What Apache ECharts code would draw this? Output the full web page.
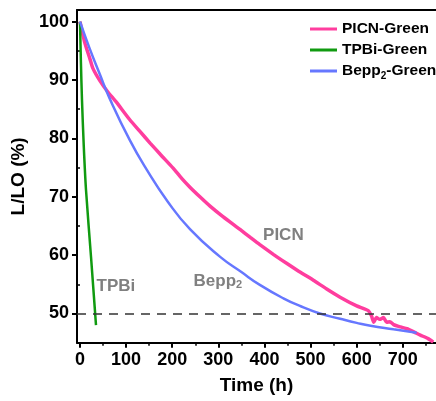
<!DOCTYPE html>
<html>
<head>
<meta charset="utf-8">
<script src="https://cdn.jsdelivr.net/npm/echarts@6/dist/echarts.min.js"></script>
<style>html,body{margin:0;padding:0;background:#fff}#c{width:436px;height:401px}</style>
</head>
<body>
<div id="c"></div>
<script>
// ---- data ----
const seriesNames = ['PICN-Green', 'TPBi-Green', 'Bepp2-Green'];
const picnHours = [0, 10, 22, 28, 43, 60, 78, 108, 130, 152, 175, 202, 220, 239, 260, 282, 310, 347, 370, 390, 420, 448, 475, 506, 535, 564, 600, 625, 632, 637, 643, 650, 658, 665, 672, 680, 695, 709, 725, 738, 755, 766];
const picnValues = [100, 96.5, 93.5, 92.0, 89.9, 88.0, 86.3, 83.2, 81.2, 79.2, 77.2, 74.9, 73.2, 71.6, 70.0, 68.4, 66.6, 64.4, 63.0, 61.8, 60.1, 58.6, 57.2, 55.7, 54.2, 52.8, 51.3, 50.5, 49.6, 48.5, 49.3, 49.0, 49.3, 48.5, 48.6, 48.1, 47.7, 47.4, 46.8, 46.3, 45.7, 45.1];
const tpbiHours = [0, 2, 4.3, 8, 13, 24, 34.7];
const tpbiValues = [100, 93, 86.6, 79, 71.2, 59.6, 48.0];
const beppHours = [0, 20, 43, 64, 108, 145, 190, 239, 304, 350, 390, 441, 480, 520, 564, 600, 630, 680, 723, 730];
const beppValues = [100, 95.6, 91, 86.9, 79.7, 74.6, 69.2, 64.4, 59.7, 57.1, 54.9, 52.6, 51.2, 50.0, 49.1, 48.4, 47.9, 47.3, 46.8, 46.7];
const xMajorTicks = [0, 100, 200, 300, 400, 500, 600, 700];
const xMinorTicks = [50, 150, 250, 350, 450, 550, 650, 750];
const yMajorTicks = [50, 60, 70, 80, 90, 100];
const yMinorTicks = [55, 65, 75, 85, 95];
const halfLifeLevel = 50;
const annPICN = [441, 63.4];
const annBepp = [299, 55.6];
const annTPBi = [78, 54.7];

const pairs = (xs, ys) => xs.map((x, i) => [x, ys[i]]);
const FONT = 'Liberation Sans, Arial, sans-serif';
const X_MIN = -6.5, X_MAX = 772, Y_MIN = 45, Y_MAX = 102;
const gray = '#808080';

const annLabel = (text) => ({
  show: true, position: 'inside', formatter: text,
  color: gray, fontSize: 17, fontWeight: 'bold', fontFamily: FONT,
  rich: {
    a: {color: gray, fontSize: 17, fontWeight: 'bold', fontFamily: FONT},
    s: {color: gray, fontSize: 11, fontWeight: 'bold', fontFamily: FONT, verticalAlign: 'bottom', padding: [9, 0, 0, 0]}
  }
});

const chart = echarts.init(document.getElementById('c'), null, {renderer: 'canvas'});
chart.setOption({
  animation: false,
  backgroundColor: '#fff',
  grid: {left: 77, top: 10, right: 0, bottom: 58.3, containLabel: false},
  legend: {
    data: seriesNames.map(n => ({name: n, icon: 'rect'})), orient: 'vertical', left: 305, top: 14,
    itemWidth: 27, itemHeight: 3, itemGap: 1,
    textStyle: {
      fontSize: 15.5, fontWeight: 'bold', fontFamily: FONT, color: '#000', lineHeight: 20,
      rich: {
        a: {fontSize: 15.5, fontWeight: 'bold', fontFamily: FONT, color: '#000', lineHeight: 20},
        s: {fontSize: 10, fontWeight: 'bold', fontFamily: FONT, color: '#000', verticalAlign: 'bottom', padding: [8, 0, 0, 0]}
      }
    },
    formatter: (n) => n === 'Bepp2-Green' ? '{a|Bepp}{s|2}{a|-Green}' : n
  },
  xAxis: [
    {
      type: 'value', min: X_MIN, max: X_MAX, position: 'bottom',
      axisLine: {show: true, onZero: false, lineStyle: {color: '#000', width: 2}},
      axisTick: {show: true, customValues: xMajorTicks, length: 5, lineStyle: {color: '#000', width: 2}},
      axisLabel: {customValues: xMajorTicks, fontSize: 18, fontWeight: 'bold', fontFamily: FONT, color: '#000', margin: 8},
      splitLine: {show: false},
      name: 'Time (h)', nameLocation: 'middle', nameGap: 34,
      nameTextStyle: {fontSize: 19, fontWeight: 'bold', fontFamily: FONT, color: '#000'}
    },
    {
      type: 'value', min: X_MIN, max: X_MAX, position: 'bottom',
      axisLine: {show: false},
      axisTick: {show: true, customValues: xMinorTicks, length: 3, lineStyle: {color: '#000', width: 1.5}},
      axisLabel: {show: false}, splitLine: {show: false}
    },
    {
      type: 'value', min: X_MIN, max: X_MAX, position: 'top',
      axisLine: {show: true, onZero: false, lineStyle: {color: '#000', width: 2}},
      axisTick: {show: false}, axisLabel: {show: false}, splitLine: {show: false}
    }
  ],
  yAxis: [
    {
      type: 'value', min: Y_MIN, max: Y_MAX, position: 'left',
      axisLine: {show: true, onZero: false, lineStyle: {color: '#000', width: 2}},
      axisTick: {show: true, customValues: yMajorTicks, length: 5, lineStyle: {color: '#000', width: 2}},
      axisLabel: {customValues: yMajorTicks, fontSize: 18, fontWeight: 'bold', fontFamily: FONT, color: '#000', margin: 8},
      splitLine: {show: false},
      name: 'L/LO (%)', nameLocation: 'middle', nameGap: 39, nameRotate: 90,
      nameTextStyle: {fontSize: 19, fontWeight: 'bold', fontFamily: FONT, color: '#000'}
    },
    {
      type: 'value', min: Y_MIN, max: Y_MAX, position: 'left',
      axisLine: {show: false},
      axisTick: {show: true, customValues: yMinorTicks, length: 3, lineStyle: {color: '#000', width: 1.5}},
      axisLabel: {show: false}, splitLine: {show: false}
    }
  ],
  series: [
    {
      name: seriesNames[0], type: 'line', xAxisIndex: 0, yAxisIndex: 0,
      data: pairs(picnHours, picnValues), symbol: 'none', smooth: 0.2,
      lineStyle: {color: '#ff3d9e', width: 3.5}, itemStyle: {color: '#ff3d9e'},
      markLine: {
        silent: true, symbol: ['none', 'none'], label: {show: false},
        lineStyle: {color: '#333', type: [9, 7], width: 1.6},
        data: [{yAxis: halfLifeLevel}]
      },
      markPoint: {symbol: 'circle', symbolSize: 0, silent: true, data: [{coord: annPICN, label: annLabel('PICN')}]}
    },
    {
      name: seriesNames[1], type: 'line', xAxisIndex: 0, yAxisIndex: 0,
      data: pairs(tpbiHours, tpbiValues), symbol: 'none', smooth: 0.3,
      lineStyle: {color: '#109a10', width: 2.5}, itemStyle: {color: '#109a10'},
      markPoint: {symbol: 'circle', symbolSize: 0, silent: true, data: [{coord: annTPBi, label: annLabel('TPBi')}]}
    },
    {
      name: seriesNames[2], type: 'line', xAxisIndex: 0, yAxisIndex: 0,
      data: pairs(beppHours, beppValues), symbol: 'none', smooth: true,
      lineStyle: {color: '#6677ff', width: 2.5}, itemStyle: {color: '#6677ff'},
      markPoint: {symbol: 'circle', symbolSize: 0, silent: true, data: [{coord: annBepp, label: annLabel('{a|Bepp}{s|2}')}]}
    }
  ]
});
</script>
</body>
</html>
